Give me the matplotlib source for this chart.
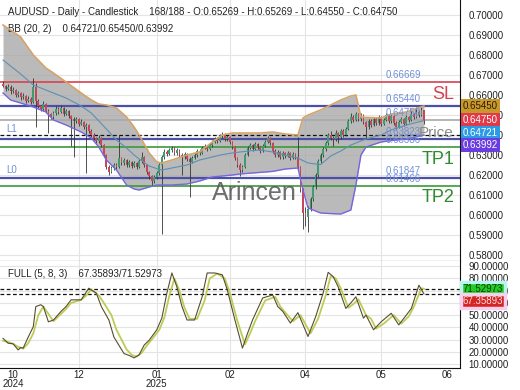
import matplotlib
matplotlib.use("Agg")
import matplotlib.pyplot as plt
import matplotlib.transforms as mtransforms
import numpy as np

plt.rcParams['font.family'] = ['Liberation Sans', 'DejaVu Sans']

# ---- daily candles (bar index 0..167) ----
first_open = 0.6655
closes = [
    0.6645, 0.6632, 0.6640, 0.6618, 0.6625, 0.6600, 0.6610, 0.6588, 0.6596, 0.6572,
    0.6580, 0.6565, 0.6640, 0.6570, 0.6545, 0.6530, 0.6555, 0.6520, 0.6505, 0.6490,
    0.6510, 0.6530, 0.6515, 0.6535, 0.6505, 0.6520, 0.6495, 0.6480, 0.6470, 0.6480,
    0.6455, 0.6465, 0.6440, 0.6450, 0.6420, 0.6400, 0.6385, 0.6370, 0.6385, 0.6350,
    0.6300, 0.6240, 0.6215, 0.6235, 0.6250, 0.6240, 0.6285, 0.6260, 0.6275, 0.6250,
    0.6265, 0.6245, 0.6260, 0.6240, 0.6270, 0.6290, 0.6250, 0.6215, 0.6195, 0.6170,
    0.6190, 0.6210, 0.6250, 0.6290, 0.6315, 0.6305, 0.6325, 0.6335, 0.6310, 0.6325,
    0.6300, 0.6290, 0.6305, 0.6280, 0.6265, 0.6285, 0.6300, 0.6320, 0.6310, 0.6335,
    0.6345, 0.6330, 0.6350, 0.6365, 0.6380, 0.6370, 0.6395, 0.6400, 0.6380, 0.6390,
    0.6365, 0.6340, 0.6285, 0.6250, 0.6225, 0.6240, 0.6300, 0.6335, 0.6350, 0.6330,
    0.6355, 0.6340, 0.6320, 0.6345, 0.6365, 0.6385, 0.6360, 0.6320, 0.6300, 0.6315,
    0.6290, 0.6310, 0.6295, 0.6310, 0.6285, 0.6305, 0.6290, 0.6240, 0.6130, 0.6010,
    0.5990, 0.6030, 0.6080, 0.6140, 0.6200, 0.6270, 0.6300, 0.6330, 0.6360, 0.6400,
    0.6385, 0.6380, 0.6410, 0.6390, 0.6420, 0.6400, 0.6430, 0.6470, 0.6490, 0.6475,
    0.6505, 0.6480, 0.6500, 0.6465, 0.6440, 0.6470, 0.6450, 0.6480, 0.6460, 0.6490,
    0.6455, 0.6475, 0.6500, 0.6470, 0.6495, 0.6460, 0.6440, 0.6465, 0.6480, 0.6455,
    0.6490, 0.6475, 0.6505, 0.6490, 0.6515, 0.6500, 0.6527, 0.6475,
]
highs = [
    0.6668, 0.6652, 0.6655, 0.6648, 0.6640, 0.6632, 0.6622, 0.6615, 0.6610, 0.6600,
    0.6595, 0.6590, 0.6685, 0.6660, 0.6580, 0.6552, 0.6568, 0.6560, 0.6528, 0.6512,
    0.6522, 0.6545, 0.6540, 0.6548, 0.6540, 0.6532, 0.6525, 0.6502, 0.6490, 0.6492,
    0.6485, 0.6478, 0.6470, 0.6462, 0.6455, 0.6428, 0.6410, 0.6392, 0.6398, 0.6390,
    0.6355, 0.6305, 0.6248, 0.6245, 0.6262, 0.6258, 0.6400, 0.6292, 0.6285, 0.6280,
    0.6275, 0.6270, 0.6272, 0.6265, 0.6282, 0.6315, 0.6295, 0.6255, 0.6220, 0.6200,
    0.6202, 0.6222, 0.6262, 0.6300, 0.6328, 0.6325, 0.6335, 0.6345, 0.6340, 0.6335,
    0.6330, 0.6308, 0.6315, 0.6310, 0.6288, 0.6295, 0.6312, 0.6330, 0.6328, 0.6345,
    0.6355, 0.6350, 0.6360, 0.6375, 0.6390, 0.6388, 0.6405, 0.6415, 0.6408, 0.6400,
    0.6395, 0.6370, 0.6345, 0.6292, 0.6258, 0.6252, 0.6310, 0.6345, 0.6362, 0.6355,
    0.6365, 0.6362, 0.6345, 0.6355, 0.6375, 0.6395, 0.6390, 0.6365, 0.6328, 0.6325,
    0.6320, 0.6320, 0.6315, 0.6320, 0.6315, 0.6315, 0.6310, 0.6390, 0.6245, 0.6135,
    0.6040, 0.6045, 0.6092, 0.6150, 0.6212, 0.6280, 0.6312, 0.6342, 0.6372, 0.6412,
    0.6420, 0.6395, 0.6425, 0.6415, 0.6432, 0.6428, 0.6442, 0.6482, 0.6510, 0.6498,
    0.6515, 0.6512, 0.6512, 0.6505, 0.6472, 0.6480, 0.6478, 0.6492, 0.6488, 0.6502,
    0.6495, 0.6485, 0.6512, 0.6505, 0.6505, 0.6500, 0.6468, 0.6475, 0.6490, 0.6485,
    0.6500, 0.6495, 0.6530, 0.6512, 0.6540, 0.6525, 0.6538, 0.6527,
]
lows = [
    0.6638, 0.6620, 0.6625, 0.6605, 0.6610, 0.6590, 0.6592, 0.6575, 0.6580, 0.6560,
    0.6565, 0.6555, 0.6560, 0.6440, 0.6535, 0.6518, 0.6522, 0.6510, 0.6410, 0.6478,
    0.6482, 0.6502, 0.6505, 0.6508, 0.6495, 0.6498, 0.6485, 0.6345, 0.6290, 0.6460,
    0.6445, 0.6448, 0.6430, 0.6210, 0.6410, 0.6390, 0.6375, 0.6360, 0.6362, 0.6340,
    0.6290, 0.6228, 0.6200, 0.6208, 0.6225, 0.6230, 0.6235, 0.6250, 0.6252, 0.6240,
    0.6242, 0.6235, 0.6238, 0.6230, 0.6235, 0.6262, 0.6240, 0.6205, 0.6182, 0.6152,
    0.6160, 0.6182, 0.6202, 0.5905, 0.6280, 0.6295, 0.6298, 0.6315, 0.6300, 0.6302,
    0.6290, 0.6200, 0.6282, 0.6270, 0.6090, 0.6258, 0.6278, 0.6292, 0.6300, 0.6305,
    0.6328, 0.6322, 0.6325, 0.6342, 0.6358, 0.6362, 0.6365, 0.6385, 0.6372, 0.6372,
    0.6355, 0.6330, 0.6275, 0.6238, 0.6195, 0.6215, 0.6235, 0.6295, 0.6328, 0.6320,
    0.6325, 0.6332, 0.6310, 0.6315, 0.6338, 0.6358, 0.6350, 0.6310, 0.6290, 0.6292,
    0.6280, 0.6282, 0.6285, 0.6288, 0.6275, 0.6278, 0.6280, 0.6230, 0.6115, 0.5930,
    0.5945, 0.5915, 0.6020, 0.6070, 0.6130, 0.6192, 0.6262, 0.6292, 0.6322, 0.6352,
    0.6375, 0.6345, 0.6372, 0.6360, 0.6382, 0.6390, 0.6395, 0.6425, 0.6462, 0.6465,
    0.6470, 0.6470, 0.6472, 0.6455, 0.6380, 0.6432, 0.6440, 0.6445, 0.6450, 0.6452,
    0.6445, 0.6448, 0.6468, 0.6460, 0.6462, 0.6450, 0.6430, 0.6435, 0.6458, 0.6445,
    0.6450, 0.6465, 0.6470, 0.6480, 0.6485, 0.6492, 0.6495, 0.6455,
]
opens = [first_open] + closes[:-1]

# ---- Bollinger bands (20, 2), read at these bars ----
bb_idx = [0, 3, 7, 12, 17, 20, 25, 31, 35, 38, 41, 45, 49, 52, 54, 58, 61, 63, 67, 73,
          78, 83, 87, 91, 94, 99, 102, 107, 112, 117, 119, 121, 126, 130, 134, 138, 140,
          142, 144, 150, 154, 160, 167]
bb_upper = [0.6950, 0.6925, 0.6890, 0.6800, 0.6735, 0.6710, 0.6665, 0.6610, 0.6575, 0.6555,
            0.6550, 0.6535, 0.6490, 0.6440, 0.6400, 0.6310, 0.6265, 0.6260, 0.6275, 0.6300,
            0.6315, 0.6365, 0.6400, 0.6410, 0.6410, 0.6410, 0.6410, 0.6415, 0.6405, 0.6400,
            0.6485, 0.6500, 0.6525, 0.6550, 0.6575, 0.6595, 0.6600, 0.6490, 0.6488, 0.6485,
            0.6505, 0.6515, 0.6545]
bb_mid = [0.6775, 0.6745, 0.6705, 0.6650, 0.6625, 0.6610, 0.6585, 0.6545, 0.6510, 0.6470,
          0.6430, 0.6375, 0.6335, 0.6300, 0.6280, 0.6245, 0.6232, 0.6225, 0.6235, 0.6250,
          0.6275, 0.6290, 0.6302, 0.6310, 0.6315, 0.6322, 0.6325, 0.6315, 0.6298, 0.6285,
          0.6272, 0.6260, 0.6252, 0.6295, 0.6320, 0.6350, 0.6360, 0.6370, 0.6380, 0.6400,
          0.6425, 0.6450, 0.6472]
bb_lower = [0.6610, 0.6575, 0.6560, 0.6540, 0.6515, 0.6475, 0.6450, 0.6415, 0.6385, 0.6340,
            0.6275, 0.6225, 0.6150, 0.6130, 0.6125, 0.6140, 0.6150, 0.6150, 0.6150, 0.6155,
            0.6170, 0.6190, 0.6195, 0.6200, 0.6205, 0.6210, 0.6213, 0.6218, 0.6230, 0.6235,
            0.6125, 0.6035, 0.6010, 0.6007, 0.6005, 0.6025, 0.6150, 0.6300, 0.6340, 0.6365,
            0.6372, 0.6380, 0.6399]
bb_last = [0.64721, 0.65450, 0.63992]

# ---- stochastic FULL (5, 8, 3) ----
k_idx = [0, 2, 4, 6, 7, 8, 10, 12, 13, 15, 16, 18, 20, 23, 25, 27, 31, 34, 37, 39,
         42, 44, 48, 50, 52, 54, 56, 58, 61, 63, 65, 67, 69, 71, 73, 76, 79, 81, 84, 87,
         89, 92, 95, 97, 99, 103, 107, 109, 111, 114, 117, 121, 124, 127, 129, 131, 133, 136, 138, 140,
         143, 144, 147, 150, 154, 157, 160, 162, 165, 167]
k_val = [31, 27, 26.5, 21.5, 23.5, 23, 32, 40.5, 57, 58.5, 57, 44.5, 46, 53, 57, 62.5, 62.5, 72, 68, 57,
         46, 32, 18.5, 17, 15, 17.5, 25.5, 29.5, 38, 47.5, 68, 84.5, 73, 57, 46, 46, 65, 84.5, 84.5, 83,
         70.5, 46, 23, 35, 46, 64, 66.5, 57, 53, 43.5, 52, 32.5, 48.5, 68, 85, 81.5, 73, 55.5, 60, 65,
         47.5, 50, 38, 44.5, 51.5, 42, 50, 55.5, 74.5, 67.35893]
d_idx = [0, 2, 4, 6, 8, 10, 12, 14, 16, 18, 20, 23, 25, 27, 31, 33, 35, 38, 40, 43,
         45, 49, 51, 53, 55, 57, 59, 62, 64, 66, 68, 70, 72, 74, 77, 80, 82, 85, 88, 90,
         93, 96, 98, 100, 104, 108, 110, 112, 115, 118, 122, 125, 128, 130, 132, 134, 137, 139, 141, 144,
         146, 148, 151, 155, 158, 161, 163, 166, 167]
d_val = [29, 28, 26.5, 24, 22.5, 27, 35, 50, 57, 51, 45, 51, 55, 60, 62.5, 66, 71, 66, 60, 50,
         38, 22, 17.5, 16, 19, 25, 30, 38, 48, 66, 80, 70, 56, 47, 47, 62, 80, 84, 80, 68,
         45, 26, 35, 45, 62, 65, 57, 52, 45, 50, 35, 47, 66, 82, 80, 72, 56, 59, 63, 50,
         47, 39, 43, 50, 43, 49, 57, 72, 71.52973]

# ---- levels ----
sl_level = 0.66669
res_level = 0.65440
price_level = 0.64000
l1_level = 0.63823
tp1_level = 0.63386
l0_level = 0.61847
tp2_level = 0.61466

tick_idx = [4, 30, 61, 90, 120, 150, 176]
tick_labels = ['10\n2024', '12', '01\n2025', '02', '04', '05', '06']

W, H = 520, 390
fig = plt.figure(figsize=(W / 100, H / 100), dpi=100)
ax = fig.add_axes([0, 1 - 261 / H, 460 / W, 261 / H])
ax2 = fig.add_axes([0, 1 - 368 / H, 460 / W, 107 / H])

xlim = (-1.2, 181.3)
grid_c = '#e4e4e4'
for a in (ax, ax2):
    a.set_xlim(*xlim)
    for s in ('top', 'left'):
        a.spines[s].set_visible(False)
    a.spines['right'].set_color('#111111')
    a.spines['bottom'].set_color('#111111')
    a.yaxis.tick_right()
    a.tick_params(axis='y', length=0, pad=6, labelsize=7, labelcolor='#222222')
    for t in tick_idx[1:-1]:
        a.axvline(t, color=grid_c, lw=0.8, zorder=0)

# ---- main panel ----
ax.set_ylim(0.577, 0.7075)
yt = np.arange(0.58, 0.7001, 0.01)
ax.set_yticks(yt)
ax.set_yticklabels([f'{v:.5f}' for v in yt])
for v in yt:
    ax.axhline(v, color=grid_c, lw=0.8, zorder=0)
ax.set_xticks([])
trans = mtransforms.blended_transform_factory(ax.transAxes, ax.transData)
ax.text(1.0, 0.7095, '   0.71000', transform=trans, fontsize=7, color='#222222',
        ha='left', va='center', clip_on=False)

ax.fill_between(bb_idx, bb_lower, bb_upper, color='#a9a9a9', alpha=0.8, lw=0, zorder=1)

ax.axhline(sl_level, color='#d8414f', lw=1.2, zorder=2)
ax.axhline(res_level, color='#4b4fa6', lw=1.6, zorder=2)
ax.axhline(closes[-1], color='#a8a8a8', lw=1.2, zorder=2)
ax.axhline(price_level, color='#111111', lw=0.9, ls=(0, (3, 2)), zorder=2)
ax.axhline(l1_level, color='#4b4fa6', lw=1.6, zorder=2)
ax.axhline(tp1_level, color='#3b9a3b', lw=1.2, zorder=2)
ax.axhline(l0_level, color='#4b4fa6', lw=1.6, zorder=2)
ax.axhline(tp2_level, color='#3b9a3b', lw=1.2, zorder=2)

# candles
up_c, dn_c = '#3f9c70', '#c84658'
idx = np.arange(len(closes))
ax.vlines(idx, lows, highs, color='#333333', lw=0.6, zorder=3)
for i, (o, c) in enumerate(zip(opens, closes)):
    bottom = min(o, c)
    hgt = max(abs(c - o), 0.0002)
    ax.bar(i, hgt, bottom=bottom, width=0.7, color=up_c if c >= o else dn_c,
           lw=0, zorder=4)

ax.plot(bb_idx, bb_upper, color='#d6a468', lw=1.2, zorder=5)
ax.plot(bb_idx, bb_mid, color='#5d8fb5', lw=0.8, zorder=5)
ax.plot(bb_idx, bb_lower, color='#7666de', lw=1.0, zorder=5)

# level price labels
lab_c = '#6f8fd8'
lab_x = 151.6
for lv in (sl_level, res_level, closes[-1], l1_level, tp1_level, l0_level, tp2_level):
    ax.text(lab_x, lv + 0.0035, f'{lv:.5f}', color=lab_c, fontsize=7, ha='left',
            va='center', zorder=6)
ax.text(1.2, 0.6430, 'L1', color=lab_c, fontsize=7, ha='left', va='center', zorder=6)
ax.text(1.2, 0.6225, 'L0', color=lab_c, fontsize=7, ha='left', va='center', zorder=6)
ax.text(174.6, 0.6600, 'SL', color='#d8414f', fontsize=13, ha='center', va='center', zorder=6)
ax.text(172.6, 0.6275, 'TP1', color='#2e8b2e', fontsize=13, ha='center', va='center', zorder=6)
ax.text(172.6, 0.6085, 'TP2', color='#2e8b2e', fontsize=13, ha='center', va='center', zorder=6)
ax.text(172.0, 0.6410, 'Price', color='#8a8a8a', fontsize=11, ha='center', va='center', zorder=6)
ax.text(83, 0.6110, 'Arincen', color='#555555', alpha=0.85, fontsize=18, ha='left',
        va='center', zorder=6)

ax.text(0.017, 0.954, 'AUDUSD - Daily - Candlestick    168/188 - O:0.65269 - H:0.65269'
        ' - L:0.64550 - C:0.64750', transform=ax.transAxes, fontsize=7, color='#222222',
        ha='left', va='center')
ax.text(0.017, 0.889, 'BB (20, 2)    ' + '/'.join(f'{v:.5f}' for v in bb_last),
        transform=ax.transAxes, fontsize=7, color='#222222', ha='left', va='center')


def stack(values, gap):
    out = []
    for v in values:
        out.append(v if not out else min(v, out[-1] - gap))
    return out


box_vals = [bb_last[1], closes[-1], bb_last[0], bb_last[2]]
box_fc = ['#c9982c', '#e03a4a', '#2b9be6', '#6a3de0']
box_tc = ['#2a1e00', 'white', 'white', 'white']
for v, p, fc, tc in zip(box_vals, stack(box_vals, 0.0063), box_fc, box_tc):
    ax.text(1.006, p, f'{v:.5f}', transform=trans, fontsize=7, color=tc, ha='left',
            va='center', clip_on=False, zorder=7,
            bbox=dict(boxstyle='square,pad=0.2', fc=fc, ec='none'))

# ---- stochastic panel ----
ax2.set_ylim(6.7, 94.3)
yt2 = np.arange(10, 91, 10)
ax2.set_yticks(yt2)
ax2.set_yticklabels([f'{v:.5f}' for v in yt2])
for v in yt2:
    ax2.axhline(v, color=grid_c, lw=0.8, zorder=0)
ax2.set_xticks(tick_idx)
ax2.set_xticklabels(tick_labels, linespacing=0.9)
ax2.tick_params(axis='x', length=0, pad=1.5, labelsize=7, labelcolor='#222222')
ax2.axhline(k_val[-1], color='#111111', lw=0.9, ls=(0, (3, 2)), zorder=2)
ax2.axhline(d_val[-1], color='#111111', lw=0.9, ls=(0, (3, 2)), zorder=2)
ax2.plot(d_idx, d_val, color='#bccd55', lw=1.3, zorder=3)
ax2.plot(k_idx, k_val, color='#5a4c32', lw=0.8, zorder=4)
ax2.text(0.017, 0.878, 'FULL (5, 8, 3)    %.5f/%.5f' % (k_val[-1], d_val[-1]),
         transform=ax2.transAxes, fontsize=7, color='#222222', ha='left', va='center')

trans2 = mtransforms.blended_transform_factory(ax2.transAxes, ax2.transData)
sv = [d_val[-1], k_val[-1]]
s_fc = ['#22cc22', '#d42424']
s_glow = ['#b8f4f0', '#f8d0ee']
s_tc = ['#0b3d0b', '#ffe0e0']
for v, p, fc, gc, tc in zip(sv, stack(sv, 10.3), s_fc, s_glow, s_tc):
    ax2.text(1.006, p, f'{v:.5f}', transform=trans2, fontsize=7, color=tc, ha='left',
             va='center', clip_on=False, zorder=7,
             bbox=dict(boxstyle='square,pad=0.2', fc=fc, ec=gc, lw=2.5))

fig.savefig('out.png', dpi=100)
